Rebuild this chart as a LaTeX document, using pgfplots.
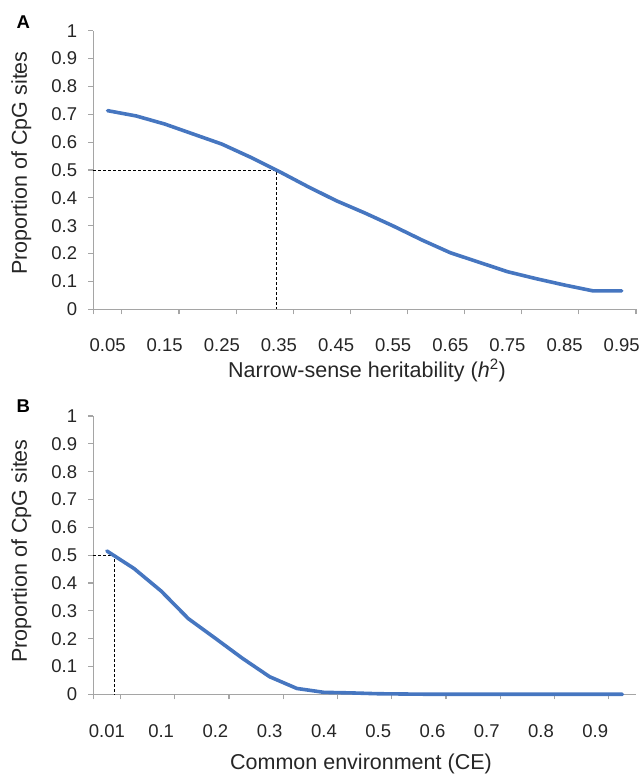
\documentclass[border=0pt]{standalone}
\usepackage{fontspec}
\setmainfont{Liberation Sans}
\usepackage{pgfplots}
\pgfplotsset{compat=1.18}
\definecolor{lineblue}{RGB}{70,118,192}
\definecolor{axisgray}{RGB}{165,165,165}
\tikzset{lab/.style={font=\fontsize{21.5}{24}\selectfont, text=black!85, inner sep=0pt, anchor=base}}
\pgfplotsset{
  panel/.style={
    scale only axis,
    width=542.7pt,
    xmin=-0.5,
    ymin=0, ymax=1,
    axis x line*=bottom,
    axis y line*=left,
    axis line style={draw=axisgray, line width=1.2pt},
    every tick/.style={draw=axisgray, line width=1.2pt},
    tick align=outside,
    major tick length=5pt,
    minor tick length=5pt,
    xtick={0,2,...,18},
    minor xtick={-0.5,0.5,2.5,4.5,6.5,8.5,10.5,12.5,14.5,16.5,18.5},
    major x tick style={draw=none},
    ytick={0,0.1,...,1.01},
    yticklabels={0,0.1,0.2,0.3,0.4,0.5,0.6,0.7,0.8,0.9,1},
    /pgf/number format/assume math mode=true,
    ticklabel style={font=\fontsize{18.5}{20}\selectfont, text=black!85, inner sep=0pt},
    yticklabel style={anchor=east, xshift=-11pt},
    clip=false,
  },
}
\begin{document}
\begin{tikzpicture}
\useasboundingbox (0,0) rectangle (644pt,774pt);
% Panel A
\begin{axis}[panel,
  at={(93.3pt,464.7pt)}, anchor=south west,
  height=278.6pt,
  xmax=18.5,
  xticklabels={0.05,0.15,0.25,0.35,0.45,0.55,0.65,0.75,0.85,0.95},
  every x tick label/.append style={anchor=north, yshift=-24pt},
]
\addplot[black, line width=0.9pt, dash pattern=on 3pt off 2pt] coordinates {(-0.5,0.5) (5.9,0.5) (5.9,0)};
\addplot[lineblue, line width=3.6pt, line cap=round, line join=round] coordinates {
(0,0.713) (1,0.694) (2,0.665) (3,0.629) (4,0.593) (5,0.546) (6,0.495) (7,0.441)
(8,0.390) (9,0.346) (10,0.299) (11,0.249) (12,0.203) (13,0.169) (14,0.135)
(15,0.110) (16,0.087) (17,0.066) (18,0.066)};
\end{axis}
% Panel B
\begin{axis}[panel,
  at={(93.3pt,79.7pt)}, anchor=south west,
  height=278.3pt,
  xmax=19.5,
  xticklabels={0.01,0.1,0.2,0.3,0.4,0.5,0.6,0.7,0.8,0.9},
  every x tick label/.append style={anchor=north, yshift=-25pt},
]
\addplot[black, line width=0.9pt, dash pattern=on 3pt off 2pt] coordinates {(-0.5,0.5) (0.27,0.5) (0.27,0)};
\addplot[lineblue, line width=3.6pt, line cap=round, line join=round] coordinates {
(0,0.515) (1,0.452) (2,0.371) (3,0.272) (4,0.201) (5,0.129) (6,0.063) (7,0.021)
(8,0.007) (9,0.005) (10,0.002) (11,0.001) (12,0) (13,0) (14,0) (15,0) (16,0)
(17,0) (18,0) (19,0)};
\end{axis}
\node[lab, rotate=90] at (27pt,774pt-163pt) {Proportion of CpG sites};
\node[lab, rotate=90] at (27pt,774pt-551pt) {Proportion of CpG sites};
\node[lab] at (367pt,774pt-377.3pt) {Narrow-sense heritability (\textit{h}\textsuperscript{2})};
\node[lab] at (361pt,774pt-769pt) {Common environment (CE)};
\node[anchor=base west, inner sep=0pt, font=\fontsize{18.5}{20}\selectfont\bfseries] at (16.5pt,774pt-28.3pt) {A};
\node[anchor=base west, inner sep=0pt, font=\fontsize{18.5}{20}\selectfont\bfseries] at (16.5pt,774pt-413pt) {B};
\end{tikzpicture}
\end{document}
